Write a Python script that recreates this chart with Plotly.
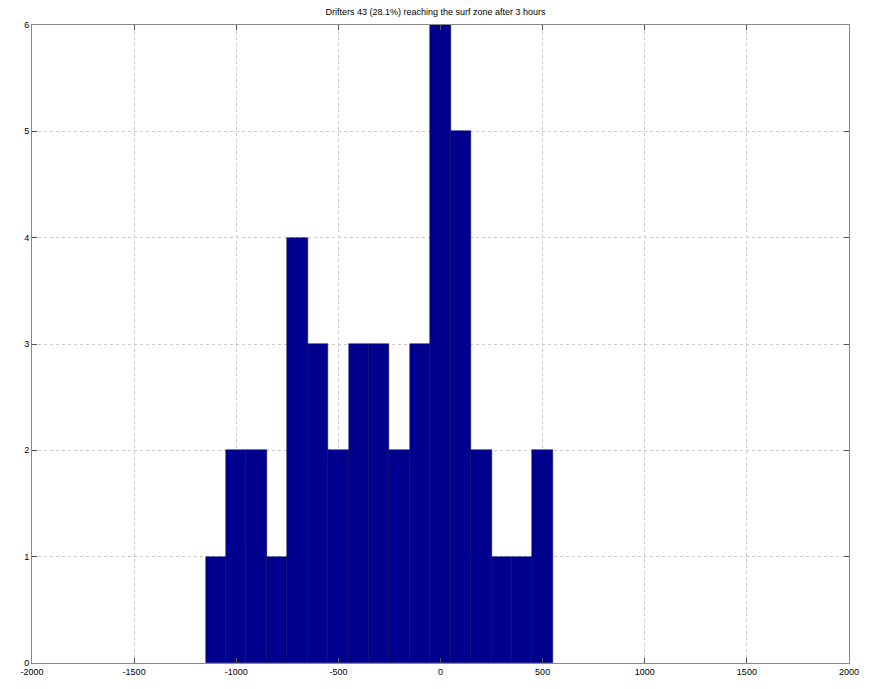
import plotly.graph_objects as go

bin_centers = [-1100, -1000, -900, -800, -700, -600, -500, -400, -300, -200, -100, 0, 100, 200, 300, 400, 500]
counts = [1, 2, 2, 1, 4, 3, 2, 3, 3, 2, 3, 6, 5, 2, 1, 1, 2]
x_ticks = [-2000, -1500, -1000, -500, 0, 500, 1000, 1500, 2000]
y_ticks = [0, 1, 2, 3, 4, 5, 6]
title = "Drifters 43 (28.1%) reaching the surf zone after 3 hours"

fig = go.Figure(go.Bar(
    x=bin_centers, y=counts, width=100,
    marker=dict(color="rgb(0,0,143)", line=dict(color="rgb(0,0,90)", width=0.5)),
))

fig.update_layout(
    width=871, height=689,
    margin=dict(l=32, r=15, t=25, b=18),
    paper_bgcolor="white", plot_bgcolor="white",
    showlegend=False, bargap=0,
    title=dict(text=title, x=0.5, xanchor="center", y=0.988, yanchor="top",
               font=dict(family="Liberation Sans, Arial", size=9, color="black")),
    font=dict(family="Liberation Sans, Arial", size=9, color="black"),
)
fig.update_xaxes(
    range=[-2000, 2000], tickvals=x_ticks, ticktext=[str(v) for v in x_ticks],
    showgrid=True, gridcolor="#c8c8c8", griddash="dot", gridwidth=1,
    ticks="inside", ticklen=5, tickcolor="#555", mirror="ticks",
    showline=True, linecolor="#888", linewidth=1, zeroline=False,
)
fig.update_yaxes(
    range=[0, 6], tickvals=y_ticks, ticktext=[str(v) for v in y_ticks],
    showgrid=True, gridcolor="#c8c8c8", griddash="dot", gridwidth=1,
    ticks="inside", ticklen=5, tickcolor="#555", mirror="ticks",
    showline=True, linecolor="#888", linewidth=1, zeroline=False,
)

fig.write_html("out.html")
